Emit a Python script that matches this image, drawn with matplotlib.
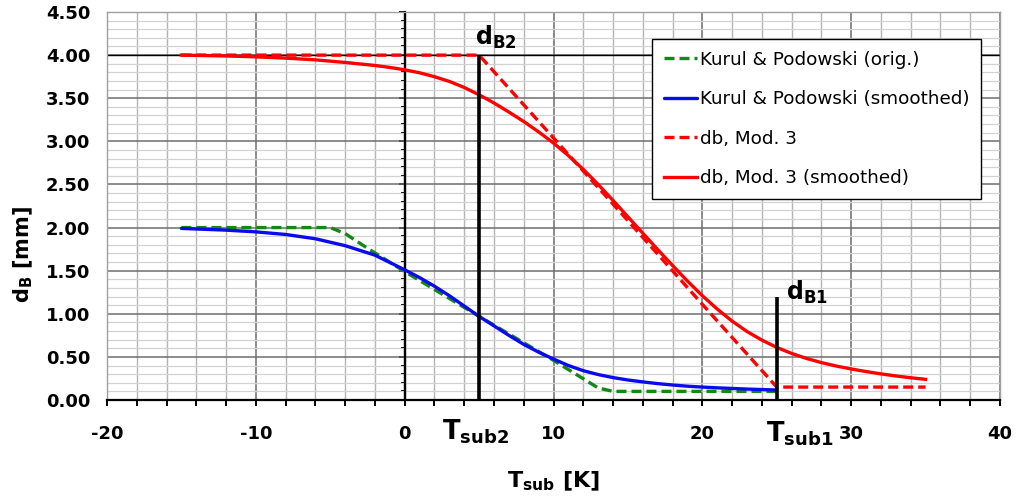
import matplotlib
matplotlib.use("Agg")
import matplotlib.pyplot as plt
from matplotlib.ticker import MultipleLocator, FixedLocator

# ---- data ----
kp_orig_x = [-15, -10, -5, -4, -2.5, 0, 5, 10, 13, 14, 20, 25]
kp_orig_y = [2.0, 2.0, 2.0, 1.93, 1.76, 1.49, 0.97, 0.46, 0.14, 0.10, 0.10, 0.10]

kp_smooth_x = [-15, -12, -10, -8, -6, -4, -2, 0, 1, 2, 3, 4, 5, 6, 7, 8, 9, 10,
               11, 12, 13, 14, 15, 16, 17, 18, 19, 20, 21, 22, 23, 24, 25]
kp_smooth_y = [1.99, 1.97, 1.95, 1.92, 1.87, 1.79, 1.68, 1.51, 1.42, 1.32, 1.21, 1.09,
               0.97, 0.86, 0.75, 0.645, 0.555, 0.475, 0.40, 0.34, 0.295, 0.26, 0.232,
               0.21, 0.19, 0.174, 0.16, 0.15, 0.141, 0.134, 0.127, 0.121, 0.116]

mod3_x = [-15, -10, -5, 0, 5, 10, 15, 20, 25, 30, 35]
mod3_y = [4.0, 4.0, 4.0, 4.0, 4.0, 3.04, 2.08, 1.11, 0.15, 0.15, 0.15]

mod3_smooth_x = [-15, -12, -10, -8, -6, -4, -2, -1, 0, 1, 2, 3, 4, 5, 6, 7, 8, 9, 10,
                 11, 12, 13, 14, 15, 16, 17, 18, 19, 20, 21, 22, 23, 24, 25, 26, 27,
                 28, 29, 30, 31, 32, 33, 34, 35]
mod3_smooth_y = [4.00, 3.99, 3.98, 3.965, 3.945, 3.915, 3.88, 3.857, 3.83, 3.795, 3.75,
                 3.695, 3.625, 3.54, 3.445, 3.34, 3.23, 3.11, 2.98, 2.835, 2.675, 2.50,
                 2.315, 2.125, 1.935, 1.745, 1.56, 1.38, 1.21, 1.055, 0.915, 0.795,
                 0.695, 0.61, 0.54, 0.482, 0.434, 0.394, 0.36, 0.33, 0.303, 0.279,
                 0.258, 0.24]

tsub_markers = [5, 25]
tsub_marker_tops = [4.0, 1.2]

x_ticks = [-20, -10, 0, 10, 20, 30, 40]
y_ticks = [0, 0.5, 1.0, 1.5, 2.0, 2.5, 3.0, 3.5, 4.0, 4.5]

labels = ["Kurul & Podowski (orig.)", "Kurul & Podowski (smoothed)",
          "db, Mod. 3", "db, Mod. 3 (smoothed)"]

# ---- figure ----
plt.rcParams['font.family'] = ['DejaVu Sans']
plt.rcParams['mathtext.fontset'] = 'dejavusans'
plt.rcParams['axes.unicode_minus'] = False

fig = plt.figure(figsize=(10.16, 5.04), dpi=100)
ax = fig.add_axes([107/1016, 1 - 400/504, 893/1016, 388/504])
ax.set_xlim(-20, 40)
ax.set_ylim(0, 4.5)

# grid
ax.xaxis.set_major_locator(FixedLocator(x_ticks))
ax.xaxis.set_minor_locator(MultipleLocator(2))
ax.yaxis.set_major_locator(FixedLocator(y_ticks))
ax.yaxis.set_minor_locator(MultipleLocator(0.1))
ax.grid(which='minor', axis='x', color='#b4b4b4', lw=1.0)
ax.grid(which='minor', axis='y', color='#d2d2d2', lw=0.9)
ax.grid(which='major', color='#6e6e6e', lw=1.1)
ax.set_axisbelow(True)
ax.axhline(4.0, color='black', lw=1.0, zorder=1)

for s in ['left', 'right', 'top']:
    ax.spines[s].set_color('#a0a0a0')
    ax.spines[s].set_linewidth(1.0)
ax.spines['bottom'].set_color('black')
ax.spines['bottom'].set_linewidth(1.6)

ax.tick_params(axis='y', which='both', length=0, pad=12)
ax.tick_params(axis='x', which='major', direction='out', length=4, width=1.4, pad=14, color='black')
ax.tick_params(axis='x', which='minor', direction='out', length=4, width=1.4, color='black')
ax.set_yticklabels([f"{v:.2f}" for v in y_ticks])
for lab in ax.get_xticklabels() + ax.get_yticklabels():
    lab.set_fontweight('bold')
    lab.set_fontsize(13)

# y axis line at x = 0 with ticks
ax.axvline(0, color='black', lw=1.6, zorder=2)
sec = ax.secondary_yaxis(20/60)
sec.spines['left'].set_color('black')
sec.spines['left'].set_linewidth(1.6)
sec.yaxis.set_major_locator(FixedLocator(y_ticks))
sec.yaxis.set_minor_locator(MultipleLocator(0.1))
sec.tick_params(which='major', length=4, width=1.4, labelleft=False)
sec.tick_params(which='minor', length=3, width=1.4)

# curves
lw = 2.4
l1, = ax.plot(kp_orig_x, kp_orig_y, color='#108a10', lw=lw, ls=(0, (3, 1.5)), zorder=4)
l2, = ax.plot(kp_smooth_x, kp_smooth_y, color='#0a0aee', lw=lw, zorder=5, solid_capstyle='round')
l3, = ax.plot(mod3_x, mod3_y, color='#ff0000', lw=lw, ls=(0, (3, 1.5)), zorder=4)
l4, = ax.plot(mod3_smooth_x, mod3_smooth_y, color='#ff0000', lw=lw, zorder=5)

ax.vlines(tsub_markers, 0, tsub_marker_tops, color='black', lw=2.6, zorder=6)

# annotations
ax.text(4.7, 4.12, r'$\mathbf{d_{B2}}$', fontsize=17, ha='left', va='baseline', zorder=7)
ax.text(25.65, 1.16, r'$\mathbf{d_{B1}}$', fontsize=17, ha='left', va='baseline', zorder=7)
xt = ax.get_xaxis_transform()
ax.text(2.5, -40/388, r'$\mathbf{T_{sub2}}$', fontsize=18.5, ha='left', va='baseline', transform=xt)
ax.text(24.3, -42/388, r'$\mathbf{T_{sub1}}$', fontsize=18.5, ha='left', va='baseline', transform=xt)

ax.set_xlabel(r'$\mathbf{T_{sub}}$ [K]', fontsize=16, fontweight='bold')
ax.xaxis.set_label_coords(0.5, -70/388)
ax.set_ylabel(r'$\mathbf{d_B}$ [mm]', fontsize=15, fontweight='bold')
ax.yaxis.set_label_coords(-72/893, (400-255)/388)

leg = ax.legend([l1, l2, l3, l4], labels, loc='upper left',
                bbox_to_anchor=(652/1016, 1 - 39/504), bbox_transform=fig.transFigure,
                fontsize=13.2, frameon=True, fancybox=False, framealpha=1,
                edgecolor='black', handlelength=1.8, handletextpad=0.15,
                labelspacing=1.17, borderpad=0.65, borderaxespad=0)
leg.get_frame().set_linewidth(1.0)
leg.set_zorder(10)

fig.savefig('out.png', dpi=100)
